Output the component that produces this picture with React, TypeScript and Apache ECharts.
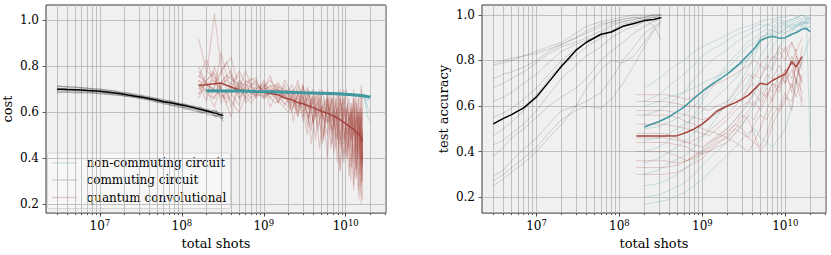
import React, { useEffect, useRef } from 'react';
import * as echarts from 'echarts';

// ---------- axes ----------
const X_MIN = 2.2e6;
const X_MAX = 3.1e10;
const X_MAJOR = [1e7, 1e8, 1e9, 1e10];
const X_DECADES = [1e6, 1e7, 1e8, 1e9, 1e10];
const X_MANTISSAS = [1, 2, 3, 4, 5, 6, 7, 8, 9];
const Y_TICKS = [0.2, 0.4, 0.6, 0.8, 1.0];
const COST_RANGE = [0.16, 1.0675];
const ACC_RANGE = [0.13, 1.0435];

// ---------- cost: commuting circuit ----------
const X_COMM_COST = [3e6, 3.5e6, 4e6, 5e6, 6e6, 7e6, 8e6, 1e7, 1.2e7, 1.5e7, 1.8e7, 2.2e7, 2.7e7, 3.3e7, 4e7, 5e7, 6e7, 7.5e7, 9e7, 1.1e8, 1.4e8, 1.7e8, 2.1e8, 2.6e8, 3.2e8];
const COMM_COST_MEAN = [0.700, 0.700, 0.699, 0.698, 0.697, 0.695, 0.694, 0.691, 0.688, 0.684, 0.680, 0.675, 0.670, 0.665, 0.660, 0.652, 0.646, 0.640, 0.635, 0.628, 0.620, 0.612, 0.604, 0.595, 0.585];
const COMM_COST_RUNS = [
  [0.712, 0.711, 0.709, 0.708, 0.706, 0.704, 0.703, 0.700, 0.697, 0.692, 0.688, 0.684, 0.678, 0.671, 0.668, 0.659, 0.655, 0.646, 0.641, 0.632, 0.628, 0.617, 0.611, 0.602, 0.593],
  [0.690, 0.691, 0.690, 0.689, 0.688, 0.687, 0.685, 0.683, 0.680, 0.677, 0.672, 0.669, 0.662, 0.659, 0.651, 0.645, 0.636, 0.632, 0.622, 0.619, 0.606, 0.601, 0.589, 0.584, 0.572],
  [0.705, 0.703, 0.704, 0.701, 0.700, 0.699, 0.697, 0.693, 0.691, 0.686, 0.683, 0.676, 0.673, 0.664, 0.663, 0.650, 0.650, 0.636, 0.637, 0.621, 0.625, 0.603, 0.608, 0.585, 0.590],
  [0.695, 0.697, 0.694, 0.695, 0.692, 0.693, 0.689, 0.689, 0.684, 0.683, 0.676, 0.676, 0.666, 0.668, 0.655, 0.657, 0.640, 0.645, 0.626, 0.633, 0.611, 0.618, 0.595, 0.603, 0.575],
  [0.716, 0.713, 0.712, 0.710, 0.707, 0.706, 0.702, 0.701, 0.695, 0.693, 0.685, 0.682, 0.675, 0.673, 0.662, 0.660, 0.648, 0.649, 0.635, 0.636, 0.620, 0.622, 0.600, 0.610, 0.560],
  [0.685, 0.686, 0.686, 0.684, 0.685, 0.683, 0.683, 0.680, 0.679, 0.675, 0.674, 0.668, 0.667, 0.658, 0.656, 0.643, 0.644, 0.628, 0.632, 0.613, 0.618, 0.596, 0.604, 0.580, 0.598],
];

// ---------- cost: quantum convolutional ----------
const X_QCNN_COST = [1.6e8, 2e8, 2.5e8, 3e8, 4e8, 5e8, 6e8, 8e8, 1e9, 1.2e9, 1.5e9, 1.8e9, 2.2e9, 2.6e9, 3e9, 3.5e9, 4e9, 4.6e9, 5.2e9, 6e9, 6.8e9, 7.6e9, 8.5e9, 9.5e9, 1.05e10, 1.15e10, 1.25e10, 1.35e10, 1.45e10, 1.55e10, 1.6e10];
const QCNN_COST_MEAN = [0.718, 0.720, 0.724, 0.727, 0.710, 0.697, 0.694, 0.689, 0.686, 0.682, 0.676, 0.662, 0.654, 0.642, 0.637, 0.628, 0.620, 0.610, 0.602, 0.596, 0.586, 0.578, 0.568, 0.556, 0.545, 0.534, 0.526, 0.512, 0.503, 0.486, 0.470];
const QCNN_COST_RUNS = [
  [0.92, 0.78, 0.75, 0.66, 0.71, 0.68, 0.74, 0.70, 0.73, 0.66, 0.70, 0.63, 0.69, 0.60, 0.67, 0.57, 0.66, 0.52, 0.63, 0.55, 0.60, 0.44, 0.62, 0.40, 0.58, 0.36, 0.55, 0.31, 0.60, 0.28, 0.46],
  [0.70, 0.76, 1.03, 0.80, 0.62, 0.72, 0.66, 0.71, 0.69, 0.72, 0.64, 0.70, 0.61, 0.68, 0.63, 0.70, 0.56, 0.66, 0.58, 0.68, 0.50, 0.64, 0.46, 0.66, 0.42, 0.60, 0.38, 0.64, 0.33, 0.58, 0.40],
  [0.75, 0.83, 0.72, 0.78, 0.84, 0.70, 0.68, 0.74, 0.67, 0.70, 0.66, 0.72, 0.64, 0.66, 0.58, 0.69, 0.60, 0.62, 0.48, 0.66, 0.52, 0.60, 0.35, 0.62, 0.45, 0.64, 0.40, 0.52, 0.22, 0.60, 0.30],
  [0.68, 0.70, 0.62, 0.73, 0.78, 0.66, 0.71, 0.67, 0.74, 0.68, 0.72, 0.66, 0.70, 0.62, 0.71, 0.61, 0.67, 0.58, 0.70, 0.56, 0.66, 0.52, 0.68, 0.48, 0.63, 0.44, 0.66, 0.42, 0.54, 0.36, 0.52],
  [0.72, 0.65, 0.80, 0.70, 0.58, 0.74, 0.70, 0.68, 0.71, 0.74, 0.69, 0.67, 0.72, 0.65, 0.62, 0.68, 0.55, 0.64, 0.60, 0.50, 0.66, 0.58, 0.44, 0.62, 0.54, 0.30, 0.58, 0.48, 0.68, 0.20, 0.50],
  [0.78, 0.72, 0.70, 0.86, 0.68, 0.63, 0.73, 0.75, 0.66, 0.69, 0.73, 0.68, 0.60, 0.72, 0.66, 0.58, 0.68, 0.62, 0.46, 0.64, 0.56, 0.66, 0.50, 0.38, 0.64, 0.48, 0.70, 0.35, 0.58, 0.44, 0.62],
  [0.66, 0.74, 0.77, 0.64, 0.73, 0.76, 0.64, 0.70, 0.72, 0.62, 0.71, 0.70, 0.66, 0.74, 0.64, 0.66, 0.70, 0.54, 0.62, 0.66, 0.46, 0.60, 0.64, 0.52, 0.40, 0.62, 0.50, 0.58, 0.40, 0.72, 0.56],
  [0.74, 0.68, 0.66, 0.72, 0.76, 0.70, 0.78, 0.66, 0.70, 0.76, 0.64, 0.74, 0.68, 0.58, 0.72, 0.62, 0.64, 0.68, 0.57, 0.61, 0.62, 0.48, 0.66, 0.56, 0.50, 0.58, 0.26, 0.62, 0.46, 0.38, 0.44],
];
// runs logged more densely late in training
const X_QCNN_COST_DENSE = [1.6e8, 2.4e8, 3.5e8, 5e8, 7e8, 1e9, 1.4e9, 2e9, 2.3e9, 2.6e9, 3e9, 3.4e9, 3.8e9, 4.3e9, 4.8e9, 5.4e9, 6e9, 6.6e9, 7.2e9, 7.9e9, 8.6e9, 9.4e9, 1.02e10, 1.1e10, 1.18e10, 1.26e10, 1.34e10, 1.42e10, 1.5e10, 1.56e10, 1.6e10];
const QCNN_COST_DENSE_RUNS = [
  [0.80, 0.66, 0.74, 0.70, 0.64, 0.72, 0.68, 0.62, 0.70, 0.58, 0.66, 0.71, 0.54, 0.64, 0.69, 0.50, 0.66, 0.58, 0.42, 0.64, 0.70, 0.46, 0.60, 0.66, 0.36, 0.58, 0.68, 0.40, 0.62, 0.30, 0.52],
  [0.68, 0.78, 0.64, 0.73, 0.71, 0.66, 0.70, 0.68, 0.56, 0.69, 0.62, 0.50, 0.67, 0.60, 0.44, 0.66, 0.55, 0.68, 0.62, 0.38, 0.60, 0.66, 0.50, 0.32, 0.64, 0.56, 0.44, 0.66, 0.24, 0.58, 0.48],
  [0.74, 0.70, 0.82, 0.66, 0.75, 0.69, 0.64, 0.70, 0.64, 0.60, 0.72, 0.58, 0.52, 0.68, 0.62, 0.58, 0.40, 0.66, 0.54, 0.62, 0.48, 0.70, 0.58, 0.44, 0.62, 0.28, 0.54, 0.60, 0.46, 0.70, 0.38],
  [0.70, 0.74, 0.68, 0.60, 0.73, 0.70, 0.72, 0.64, 0.68, 0.70, 0.56, 0.66, 0.62, 0.48, 0.70, 0.60, 0.64, 0.52, 0.68, 0.56, 0.34, 0.62, 0.70, 0.52, 0.48, 0.66, 0.36, 0.56, 0.62, 0.34, 0.42],
  [0.76, 0.70, 0.66, 0.78, 0.68, 0.67, 0.70, 0.66, 0.62, 0.68, 0.60, 0.64, 0.46, 0.62, 0.66, 0.56, 0.62, 0.44, 0.60, 0.68, 0.52, 0.42, 0.62, 0.56, 0.60, 0.50, 0.64, 0.26, 0.52, 0.60, 0.22],
  [0.72, 0.68, 0.76, 0.72, 0.66, 0.71, 0.66, 0.60, 0.66, 0.62, 0.68, 0.54, 0.66, 0.58, 0.62, 0.48, 0.70, 0.62, 0.56, 0.48, 0.66, 0.54, 0.40, 0.60, 0.52, 0.62, 0.32, 0.60, 0.50, 0.46, 0.36],
];

// ---------- cost: non-commuting circuit ----------
const X_NONC_COST = [2e8, 3e8, 5e8, 8e8, 1.2e9, 2e9, 3e9, 5e9, 8e9, 1.2e10, 1.5e10, 1.7e10, 1.85e10, 2e10];
const NONC_COST_MEAN = [0.694, 0.693, 0.692, 0.690, 0.689, 0.687, 0.685, 0.683, 0.680, 0.676, 0.673, 0.671, 0.668, 0.666];
const NONC_COST_RUNS = [
  [0.697, 0.696, 0.694, 0.693, 0.691, 0.690, 0.688, 0.686, 0.684, 0.680, 0.678, 0.676, 0.672, 0.670],
  [0.690, 0.690, 0.689, 0.688, 0.686, 0.684, 0.682, 0.680, 0.676, 0.672, 0.668, 0.664, 0.620, 0.600],
  [0.693, 0.692, 0.691, 0.690, 0.688, 0.686, 0.684, 0.681, 0.679, 0.675, 0.672, 0.660, 0.580, 0.560],
  [0.695, 0.694, 0.693, 0.691, 0.690, 0.688, 0.686, 0.684, 0.681, 0.678, 0.675, 0.674, 0.650, 0.677],
];

// ---------- accuracy: commuting circuit ----------
const X_COMM_ACC = [3e6, 4e6, 5e6, 7e6, 1e7, 1.4e7, 2e7, 3e7, 4e7, 6e7, 8e7, 1.1e8, 1.5e8, 2e8, 2.6e8, 3.2e8];
const COMM_ACC_MEAN = [0.522, 0.546, 0.562, 0.592, 0.640, 0.705, 0.775, 0.845, 0.880, 0.915, 0.925, 0.950, 0.962, 0.975, 0.980, 0.988];
const COMM_ACC_RUNS = [
  [0.78, 0.79, 0.80, 0.82, 0.84, 0.86, 0.88, 0.92, 0.95, 0.97, 0.98, 0.99, 1.00, 1.00, 1.00, 1.00],
  [0.79, 0.80, 0.81, 0.82, 0.83, 0.85, 0.87, 0.90, 0.93, 0.96, 0.97, 0.98, 0.99, 0.99, 1.00, 1.00],
  [0.72, 0.74, 0.75, 0.77, 0.80, 0.84, 0.87, 0.90, 0.92, 0.95, 0.97, 0.98, 0.99, 0.98, 0.99, 0.99],
  [0.68, 0.70, 0.72, 0.75, 0.79, 0.83, 0.86, 0.88, 0.90, 0.93, 0.96, 0.97, 0.98, 0.99, 0.99, 1.00],
  [0.62, 0.64, 0.66, 0.70, 0.74, 0.79, 0.84, 0.87, 0.89, 0.91, 0.93, 0.96, 0.97, 0.98, 0.99, 0.99],
  [0.55, 0.57, 0.59, 0.63, 0.68, 0.74, 0.80, 0.85, 0.88, 0.92, 0.95, 0.97, 0.98, 0.99, 1.00, 1.00],
  [0.47, 0.50, 0.53, 0.58, 0.65, 0.72, 0.78, 0.82, 0.86, 0.90, 0.93, 0.95, 0.97, 0.98, 0.95, 0.89],
  [0.43, 0.45, 0.48, 0.52, 0.58, 0.65, 0.72, 0.78, 0.82, 0.86, 0.90, 0.93, 0.95, 0.97, 0.98, 0.99],
  [0.38, 0.42, 0.46, 0.50, 0.55, 0.60, 0.64, 0.68, 0.72, 0.80, 0.84, 0.88, 0.92, 0.95, 0.97, 0.98],
  [0.29, 0.32, 0.36, 0.41, 0.46, 0.52, 0.58, 0.60, 0.62, 0.66, 0.72, 0.80, 0.86, 0.92, 0.95, 0.97],
  [0.27, 0.30, 0.33, 0.37, 0.42, 0.48, 0.54, 0.58, 0.60, 0.59, 0.63, 0.70, 0.78, 0.86, 0.93, 0.96],
  [0.25, 0.28, 0.31, 0.35, 0.40, 0.46, 0.52, 0.60, 0.68, 0.76, 0.80, 0.79, 0.82, 0.88, 0.94, 0.97],
];

// ---------- accuracy: non-commuting circuit ----------
const X_NONC_ACC = [2e8, 3e8, 4e8, 6e8, 8e8, 1e9, 1.3e9, 1.7e9, 2.2e9, 2.8e9, 3.5e9, 4.3e9, 5e9, 6e9, 7e9, 8.5e9, 1e10, 1.2e10, 1.4e10, 1.6e10, 1.8e10, 2e10];
const NONC_ACC_MEAN = [0.508, 0.532, 0.553, 0.595, 0.635, 0.665, 0.695, 0.722, 0.752, 0.785, 0.822, 0.855, 0.888, 0.900, 0.906, 0.898, 0.900, 0.915, 0.925, 0.938, 0.940, 0.926];
const NONC_ACC_RUNS = [
  [0.68, 0.72, 0.76, 0.80, 0.84, 0.86, 0.88, 0.90, 0.92, 0.94, 0.95, 0.96, 0.97, 0.98, 0.98, 0.99, 0.99, 1.00, 0.99, 1.00, 0.99, 1.00],
  [0.62, 0.65, 0.69, 0.74, 0.78, 0.82, 0.85, 0.87, 0.90, 0.92, 0.93, 0.95, 0.96, 0.95, 0.97, 0.98, 0.97, 0.98, 0.99, 0.98, 0.99, 0.98],
  [0.56, 0.58, 0.61, 0.66, 0.72, 0.76, 0.80, 0.83, 0.86, 0.89, 0.91, 0.93, 0.94, 0.96, 0.95, 0.97, 0.96, 0.97, 0.98, 0.97, 0.98, 0.99],
  [0.50, 0.51, 0.53, 0.56, 0.60, 0.64, 0.70, 0.75, 0.80, 0.84, 0.88, 0.90, 0.92, 0.94, 0.93, 0.95, 0.96, 0.94, 0.96, 0.95, 0.97, 0.96],
  [0.45, 0.46, 0.48, 0.52, 0.55, 0.58, 0.62, 0.66, 0.70, 0.74, 0.80, 0.86, 0.90, 0.92, 0.91, 0.93, 0.92, 0.94, 0.93, 0.95, 0.94, 0.95],
  [0.40, 0.42, 0.45, 0.50, 0.56, 0.62, 0.68, 0.74, 0.78, 0.82, 0.86, 0.88, 0.90, 0.91, 0.93, 0.92, 0.94, 0.96, 0.95, 0.97, 0.96, 0.98],
  [0.35, 0.37, 0.40, 0.44, 0.48, 0.52, 0.55, 0.58, 0.62, 0.66, 0.70, 0.76, 0.82, 0.86, 0.90, 0.92, 0.94, 0.95, 0.96, 0.97, 0.96, 0.97],
  [0.30, 0.32, 0.35, 0.38, 0.42, 0.46, 0.52, 0.58, 0.64, 0.70, 0.76, 0.82, 0.88, 0.90, 0.92, 0.94, 0.95, 0.96, 0.97, 0.96, 0.98, 0.99],
  [0.25, 0.26, 0.28, 0.32, 0.36, 0.40, 0.44, 0.48, 0.52, 0.56, 0.60, 0.66, 0.72, 0.80, 0.86, 0.90, 0.92, 0.94, 0.95, 0.96, 0.97, 0.98],
  [0.20, 0.21, 0.23, 0.26, 0.30, 0.34, 0.38, 0.42, 0.46, 0.50, 0.55, 0.60, 0.64, 0.70, 0.78, 0.86, 0.90, 0.93, 0.95, 0.96, 0.94, 0.95],
  [0.17, 0.18, 0.19, 0.22, 0.25, 0.28, 0.32, 0.36, 0.40, 0.44, 0.48, 0.50, 0.46, 0.44, 0.42, 0.46, 0.50, 0.60, 0.72, 0.80, 0.86, 0.90],
  [0.60, 0.62, 0.64, 0.66, 0.68, 0.70, 0.72, 0.74, 0.76, 0.78, 0.80, 0.84, 0.88, 0.92, 0.94, 0.96, 0.97, 0.98, 0.99, 1.00, 0.98, 0.42],
];

// ---------- accuracy: quantum convolutional ----------
const X_QCNN_ACC = [1.6e8, 2.5e8, 3.5e8, 5e8, 6.5e8, 8e8, 1e9, 1.2e9, 1.5e9, 2e9, 2.5e9, 3e9, 3.6e9, 4.2e9, 5e9, 6e9, 7e9, 8.5e9, 1e10, 1.2e10, 1.35e10, 1.6e10];
const QCNN_ACC_MEAN = [0.468, 0.468, 0.468, 0.470, 0.485, 0.500, 0.522, 0.545, 0.578, 0.600, 0.615, 0.630, 0.648, 0.672, 0.700, 0.694, 0.712, 0.728, 0.740, 0.795, 0.772, 0.817];
const QCNN_ACC_RUNS = [
  [0.65, 0.65, 0.65, 0.64, 0.63, 0.64, 0.66, 0.68, 0.70, 0.72, 0.74, 0.76, 0.78, 0.80, 0.78, 0.82, 0.80, 0.86, 0.84, 0.88, 0.82, 0.78],
  [0.62, 0.62, 0.62, 0.61, 0.60, 0.60, 0.59, 0.58, 0.60, 0.62, 0.66, 0.70, 0.74, 0.72, 0.78, 0.76, 0.82, 0.80, 0.86, 0.78, 0.85, 0.62],
  [0.58, 0.58, 0.58, 0.57, 0.56, 0.55, 0.54, 0.55, 0.57, 0.60, 0.63, 0.62, 0.68, 0.70, 0.66, 0.74, 0.72, 0.78, 0.70, 0.82, 0.76, 0.72],
  [0.52, 0.52, 0.52, 0.51, 0.50, 0.49, 0.48, 0.47, 0.50, 0.54, 0.58, 0.60, 0.62, 0.60, 0.66, 0.64, 0.70, 0.68, 0.76, 0.66, 0.80, 0.70],
  [0.48, 0.48, 0.48, 0.46, 0.44, 0.43, 0.42, 0.44, 0.46, 0.48, 0.52, 0.50, 0.46, 0.44, 0.42, 0.48, 0.56, 0.60, 0.66, 0.58, 0.72, 0.60],
  [0.44, 0.44, 0.44, 0.43, 0.42, 0.40, 0.39, 0.40, 0.42, 0.44, 0.48, 0.52, 0.56, 0.54, 0.60, 0.66, 0.62, 0.70, 0.74, 0.68, 0.78, 0.70],
  [0.40, 0.40, 0.40, 0.38, 0.36, 0.37, 0.39, 0.41, 0.44, 0.46, 0.50, 0.54, 0.58, 0.62, 0.58, 0.64, 0.70, 0.66, 0.74, 0.80, 0.70, 0.86],
  [0.36, 0.36, 0.36, 0.35, 0.36, 0.38, 0.40, 0.42, 0.45, 0.49, 0.52, 0.56, 0.54, 0.48, 0.40, 0.44, 0.52, 0.58, 0.62, 0.70, 0.64, 0.74],
  [0.33, 0.33, 0.33, 0.34, 0.36, 0.38, 0.41, 0.44, 0.47, 0.50, 0.54, 0.58, 0.62, 0.66, 0.62, 0.68, 0.66, 0.74, 0.70, 0.76, 0.72, 0.80],
  [0.30, 0.30, 0.30, 0.31, 0.33, 0.35, 0.37, 0.40, 0.43, 0.47, 0.50, 0.48, 0.46, 0.52, 0.56, 0.54, 0.60, 0.58, 0.64, 0.62, 0.72, 0.66],
  [0.46, 0.46, 0.46, 0.45, 0.44, 0.45, 0.47, 0.49, 0.52, 0.56, 0.60, 0.64, 0.68, 0.74, 0.72, 0.78, 0.76, 0.84, 0.80, 0.88, 0.84, 0.90],
  [0.56, 0.56, 0.56, 0.55, 0.53, 0.52, 0.50, 0.49, 0.48, 0.46, 0.44, 0.42, 0.40, 0.44, 0.50, 0.58, 0.64, 0.70, 0.76, 0.72, 0.82, 0.76],
];

// ---------- style ----------
const FONT = 'DejaVu Serif';
const FS = 12;
const FS_NAME = 13;
const TEAL = '#3f979f';
const RED = '#a4433b';
const TEAL_FAINT = 'rgba(63,151,159,0.24)';
const RED_FAINT = 'rgba(164,67,59,0.24)';
const GREY_FAINT = 'rgba(0,0,0,0.15)';
const GREY_DENSE = 'rgba(0,0,0,0.22)';
const GRID_LINE = '#b4b4b4';
const NAMES = ['non-commuting circuit', 'commuting circuit', 'quantum convolutional'];

const X_ALL_TICKS: number[] = [];
X_DECADES.forEach((d) => X_MANTISSAS.forEach((m) => {
  const v = m * d;
  if (v >= X_MIN && v <= X_MAX) X_ALL_TICKS.push(v);
}));

function line(name: string, xs: number[], ys: number[], color: string, width: number, g: number, z: number) {
  return {
    type: 'line', name, xAxisIndex: g * 2, yAxisIndex: g,
    data: xs.map((x, i) => [x, ys[i]]),
    symbol: 'none', showSymbol: false, silent: true, z,
    lineStyle: { color, width }, itemStyle: { color },
  };
}

function xAxes(g: number) {
  return [
    {
      type: 'log', logBase: 10, gridIndex: g, min: X_MIN, max: X_MAX,
      name: 'total shots', nameLocation: 'middle', nameGap: 22,
      nameTextStyle: { fontFamily: FONT, fontSize: FS_NAME, color: '#000' },
      axisLine: { show: false },
      axisTick: { show: true, customValues: X_ALL_TICKS, length: 2, lineStyle: { color: '#333', width: 0.8 } },
      axisLabel: {
        customValues: X_MAJOR, margin: 5, fontFamily: FONT, fontSize: FS, color: '#000',
        formatter: (v: number) => '10{sup|' + Math.round(Math.log10(v)) + '}',
        rich: { sup: { fontFamily: FONT, fontSize: 8.5, color: '#000', padding: [0, 0, 7, 0] } },
      },
      splitLine: { show: true, lineStyle: { color: GRID_LINE, width: 0.8 } },
      minorTick: { show: false }, minorSplitLine: { show: false },
    },
    {
      type: 'log', logBase: 10, gridIndex: g, min: X_MIN, max: X_MAX, position: 'bottom',
      axisLine: { show: false },
      axisTick: { show: true, customValues: X_MAJOR, length: 3.5, lineStyle: { color: '#333', width: 0.8 } },
      axisLabel: { show: false }, splitLine: { show: false },
    },
  ];
}

function yAxis(g: number, range: number[], name: string) {
  return {
    type: 'value', gridIndex: g, min: range[0], max: range[1],
    name, nameLocation: 'middle', nameGap: 32,
    nameTextStyle: { fontFamily: FONT, fontSize: FS_NAME, color: '#000' },
    axisLine: { show: false },
    axisTick: { show: true, customValues: Y_TICKS, length: 3.5, lineStyle: { color: '#333', width: 0.8 } },
    axisLabel: { customValues: Y_TICKS, margin: 7, fontFamily: FONT, fontSize: FS, color: '#000', formatter: (v: number) => v.toFixed(1) },
    splitLine: { show: true, lineStyle: { color: GRID_LINE, width: 0.8 } },
  };
}

export default function App() {
  const ref = useRef<HTMLDivElement>(null);
  useEffect(() => {
    if (!ref.current) return;
    const chart = echarts.init(ref.current, undefined, { renderer: 'svg' });
    const series: any[] = [];
    // cost panel
    QCNN_COST_RUNS.forEach((r) => series.push(line(NAMES[2], X_QCNN_COST, r, RED_FAINT, 1.1, 0, 2)));
    QCNN_COST_DENSE_RUNS.forEach((r) => series.push(line(NAMES[2], X_QCNN_COST_DENSE, r, RED_FAINT, 1.1, 0, 2)));
    COMM_COST_RUNS.forEach((r) => series.push(line(NAMES[1], X_COMM_COST, r, GREY_DENSE, 1.2, 0, 2)));
    NONC_COST_RUNS.forEach((r) => series.push(line(NAMES[0], X_NONC_COST, r, TEAL_FAINT, 1.2, 0, 2)));
    series.push(line(NAMES[2], X_QCNN_COST, QCNN_COST_MEAN, RED, 1.5, 0, 3));
    series.push(line(NAMES[1], X_COMM_COST, COMM_COST_MEAN, '#000', 1.5, 0, 3));
    series.push(line(NAMES[0], X_NONC_COST, NONC_COST_MEAN, TEAL, 3, 0, 4));
    // accuracy panel
    COMM_ACC_RUNS.forEach((r) => series.push(line(NAMES[1], X_COMM_ACC, r, GREY_FAINT, 1, 1, 2)));
    NONC_ACC_RUNS.forEach((r) => series.push(line(NAMES[0], X_NONC_ACC, r, TEAL_FAINT, 1, 1, 2)));
    QCNN_ACC_RUNS.forEach((r) => series.push(line(NAMES[2], X_QCNN_ACC, r, RED_FAINT, 1, 1, 2)));
    series.push(line(NAMES[1], X_COMM_ACC, COMM_ACC_MEAN, '#000', 1.5, 1, 3));
    series.push(line(NAMES[0], X_NONC_ACC, NONC_ACC_MEAN, TEAL, 1.5, 1, 3));
    series.push(line(NAMES[2], X_QCNN_ACC, QCNN_ACC_MEAN, RED, 1.5, 1, 3));

    const legendColors = [TEAL_FAINT, GREY_FAINT, RED_FAINT];
    const legendRows = [163, 180, 197.5];
    const legendChildren: any[] = [
      { type: 'rect', shape: { x: 47.5, y: 153, width: 183, height: 55.5, r: 2 }, style: { fill: 'rgba(247,247,247,0.92)', stroke: '#d6d6d6', lineWidth: 1 } },
    ];
    NAMES.forEach((n, i) => {
      legendChildren.push({ type: 'line', shape: { x1: 52, y1: legendRows[i], x2: 77, y2: legendRows[i] }, style: { stroke: legendColors[i], lineWidth: 1.5 } });
      legendChildren.push({ type: 'text', x: 86.5, y: legendRows[i], style: { text: n, fontFamily: FONT, fontSize: FS, fill: '#000', verticalAlign: 'middle' } });
    });

    chart.setOption({
      animation: false,
      grid: [
        { left: 42, top: 5, width: 344, height: 211, show: true, backgroundColor: '#f0f0f0', borderColor: '#3a3a3a', borderWidth: 1 },
        { left: 482, top: 5, width: 344, height: 210, show: true, backgroundColor: '#f0f0f0', borderColor: '#3a3a3a', borderWidth: 1 },
      ],
      xAxis: [...xAxes(0), ...xAxes(1)],
      yAxis: [yAxis(0, COST_RANGE, 'cost'), yAxis(1, ACC_RANGE, 'test accuracy')],
      series,
      graphic: [{ type: 'group', z: 100, children: legendChildren }],
    });
    return () => chart.dispose();
  }, []);
  return <div ref={ref} style={{ position: 'absolute', left: 0, top: 0, width: 831, height: 255 }} />;
}
